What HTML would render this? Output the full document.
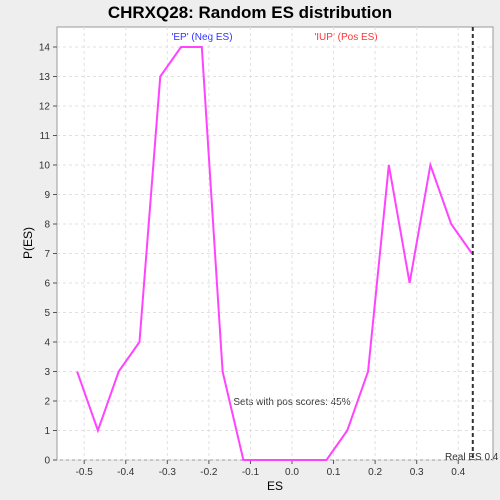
<!DOCTYPE html>
<html><head><meta charset="utf-8"><style>
body{margin:0;background:#eeeeee;}
svg{display:block;font-family:"Liberation Sans",sans-serif;}
</style></head><body>
<svg width="500" height="500">
<rect x="0" y="0" width="500" height="500" fill="#eeeeee"/>
<rect x="57" y="27" width="436" height="433" fill="#ffffff" stroke="#999"/>
<text x="250" y="18" text-anchor="middle" font-size="17" font-weight="bold">CHRXQ28: Random ES distribution</text>
<text x="202" y="40" text-anchor="middle" font-size="10" fill="#3333ff">'EP' (Neg ES)</text>
<text x="346" y="40" text-anchor="middle" font-size="10" fill="#ff3333">'IUP' (Pos ES)</text>
<text x="275" y="490" text-anchor="middle" font-size="12">ES</text>
<text x="32" y="243" text-anchor="middle" font-size="12" transform="rotate(-90 32 243)">P(ES)</text>
<text x="292" y="405" text-anchor="middle" font-size="10" fill="#333">Sets with pos scores: 45%</text>
<g id="grid"></g><g id="axes"></g><g id="marks"></g>
<text x="445" y="460" font-size="10" fill="#333">Real ES 0.4</text>
</svg>
<script>
const xs=[-0.517,-0.467,-0.417,-0.367,-0.317,-0.267,-0.217,-0.167,-0.117,-0.067,-0.017,0.033,0.083,0.133,0.183,0.233,0.283,0.333,0.383,0.433];
const ys=[3,1,3,4,13,14,14,3,0,0,0,0,0,1,3,10,6,10,8,7];
const xTicks=[-0.5,-0.4,-0.3,-0.2,-0.1,0.0,0.1,0.2,0.3,0.4];
const yTicks=[0,1,2,3,4,5,6,7,8,9,10,11,12,13,14];
const realES=0.435;
const NS='http://www.w3.org/2000/svg';
const X=v=>292+v*415.6;
const Y=v=>460-v*29.5;
function mk(t,a,p){const e=document.createElementNS(NS,t);for(const k in a)e.setAttribute(k,a[k]);p.appendChild(e);return e;}
const g=document.getElementById('grid'),ax=document.getElementById('axes'),m=document.getElementById('marks');
xTicks.forEach(v=>{
 const l=mk('line',{x1:X(v),x2:X(v),y1:27,y2:460,stroke:'#e0e0e0','stroke-dasharray':'3,3'},g);
 
 
 const t=mk('line',{x1:X(v),x2:X(v),y1:460,y2:464,stroke:'#555'},ax);
 
 
 const tx=mk('text',{x:X(v),y:475,'text-anchor':'middle','font-size':10,fill:'#333'},ax);
 tx.textContent=v.toFixed(1);
 
 
});
yTicks.forEach(v=>{
 const l=mk('line',{x1:57,x2:493,y1:Y(v),y2:Y(v),stroke:'#e0e0e0','stroke-dasharray':'3,3'},g);
 
 
 const t=mk('line',{x1:53,x2:57,y1:Y(v),y2:Y(v),stroke:'#555'},ax);
 
 
 const tx=mk('text',{x:50,y:Y(v)+3.5,'text-anchor':'end','font-size':10,fill:'#333'},ax);
 tx.textContent=v;
 
 
});
const pl=mk('polyline',{points:xs.map((x,i)=>X(x)+','+Y(ys[i])).join(' '),fill:'none',stroke:'#ff44ff','stroke-width':2},m);


const rl=mk('line',{x1:X(realES),x2:X(realES),y1:27,y2:460,stroke:'#333','stroke-width':2,'stroke-dasharray':'4,3'},m);


</script>
</body></html>
